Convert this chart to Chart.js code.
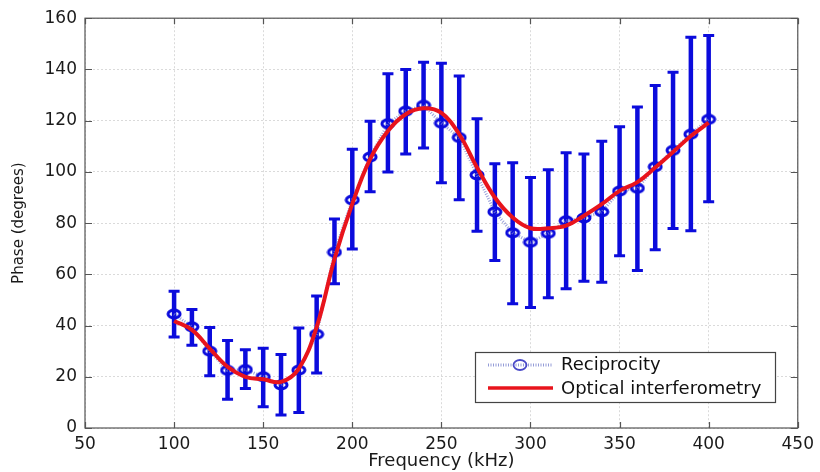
<!DOCTYPE html>
<html>
<head>
<meta charset="utf-8">
<script src="https://cdn.jsdelivr.net/npm/chart.js@4"></script>
<style>
  html, body { margin: 0; padding: 0; background: #fff; }
  #phaseCanvas { display: block; }
</style>
</head>
<body>
<canvas id="phaseCanvas" width="820" height="472"></canvas>
<script>
const freq = [100, 110, 120, 130, 140, 150, 160, 170, 180, 190, 200, 210, 220, 230, 240, 250,
              260, 270, 280, 290, 300, 310, 320, 330, 340, 350, 360, 370, 380, 390, 400];
const recip = [44.5, 39.5, 30, 22.5, 22.8, 20, 16.8, 22.6, 36.6, 68.6, 89, 105.8, 118.8, 123.7, 126, 119,
               113.4, 98.8, 84.4, 76.2, 72.5, 76, 80.9, 82, 84.4, 92.5, 93.6, 102, 108.4, 114.7, 120.5];
const recipHigh = [53.4, 46.3, 39.2, 34.2, 30.6, 31.1, 28.7, 39, 51.5, 81.6, 108.8, 119.8, 138.3, 140, 142.8, 142.4,
                   137.4, 120.7, 103.2, 103.6, 97.8, 100.8, 107.5, 107, 112, 117.6, 125.3, 133.7, 138.9, 152.6, 153.2];
const recipLow = [35.5, 32.3, 20.4, 11.2, 15.4, 8.3, 5.1, 6.1, 21.5, 56.3, 69.9, 92.2, 100, 107, 109.3, 95.8,
                  89.1, 76.8, 65.4, 48.5, 47, 50.9, 54.4, 57.3, 56.9, 67.3, 61.5, 69.6, 77.9, 77, 88.3];
const optical = [41.8, 38.3, 31, 23.9, 20, 19, 18, 23.2, 39.4, 66, 87.5, 105, 116, 122.5, 124.8, 123,
                 114.7, 101.7, 90, 82.2, 78, 78, 79, 82.9, 87.4, 92.6, 96, 101.7, 107.8, 114, 119.2];
const xTicks = [50, 100, 150, 200, 250, 300, 350, 400, 450];
const yTicks = [0, 20, 40, 60, 80, 100, 120, 140, 160];
const legendLabels = ["Reciprocity", "Optical interferometry"];

const BLUE = '#0b0bdc';
const RED = '#e8141c';
const FONT = "'DejaVu Sans', sans-serif";

// ellipse marker (the original picture is a bit stretched horizontally)
function makeMarker(w, h, color, lw) {
    const c = document.createElement('canvas');
    c.width = w; c.height = h;
    const g = c.getContext('2d');
    g.strokeStyle = color;
    g.lineWidth = lw;
    g.beginPath();
    g.ellipse(w / 2, h / 2, w / 2 - lw / 2 - 0.5, h / 2 - lw / 2 - 0.5, 0, 0, Math.PI * 2);
    g.stroke();
    return c;
}
const marker = makeMarker(16, 12, BLUE, 3);

const errorBars = {
    id: 'errorBars',
    beforeDatasetsDraw(chart) {
        const {ctx, scales: {x, y}} = chart;
        ctx.save();
        ctx.strokeStyle = BLUE;
        for (let i = 0; i < freq.length; i++) {
            const px = x.getPixelForValue(freq[i]);
            const top = y.getPixelForValue(recipHigh[i]);
            const bot = y.getPixelForValue(recipLow[i]);
            ctx.lineWidth = 4.5;
            ctx.beginPath();
            ctx.moveTo(px, top);
            ctx.lineTo(px, bot);
            ctx.stroke();
            ctx.lineWidth = 3;
            ctx.beginPath();
            ctx.moveTo(px - 5.5, top);
            ctx.lineTo(px + 5.5, top);
            ctx.moveTo(px - 5.5, bot);
            ctx.lineTo(px + 5.5, bot);
            ctx.stroke();
        }
        ctx.restore();
    }
};

// matlab style box with inward ticks, plus the legend inside the axes
const frameAndLegend = {
    id: 'frameAndLegend',
    afterDraw(chart) {
        const {ctx, chartArea: a, scales: {x, y}} = chart;
        ctx.save();
        ctx.strokeStyle = '#555';
        ctx.lineWidth = 1.2;
        ctx.strokeRect(a.left, a.top, a.right - a.left, a.bottom - a.top);
        ctx.beginPath();
        xTicks.forEach(v => {
            const px = Math.round(x.getPixelForValue(v)) + 0.5;
            ctx.moveTo(px, a.bottom); ctx.lineTo(px, a.bottom - 6);
            ctx.moveTo(px, a.top); ctx.lineTo(px, a.top + 6);
        });
        yTicks.forEach(v => {
            const py = Math.round(y.getPixelForValue(v)) + 0.5;
            ctx.moveTo(a.left, py); ctx.lineTo(a.left + 7, py);
            ctx.moveTo(a.right, py); ctx.lineTo(a.right - 7, py);
        });
        ctx.stroke();

        // legend
        const lx = 475, ly = 352, lw = 300, lh = 50;
        ctx.fillStyle = '#fff';
        ctx.fillRect(lx, ly, lw, lh);
        ctx.strokeStyle = '#444';
        ctx.lineWidth = 1.2;
        ctx.strokeRect(lx + 0.5, ly + 0.5, lw, lh);

        ctx.strokeStyle = 'rgba(120,130,205,0.8)';
        ctx.lineWidth = 3;
        ctx.setLineDash([1, 1.5]);
        ctx.beginPath();
        ctx.moveTo(488, 365); ctx.lineTo(553, 365);
        ctx.stroke();
        ctx.setLineDash([]);
        ctx.strokeStyle = '#4a4ac8';
        ctx.lineWidth = 1.8;
        ctx.beginPath();
        ctx.ellipse(520, 365, 6.5, 5, 0, 0, Math.PI * 2);
        ctx.stroke();

        ctx.strokeStyle = RED;
        ctx.lineWidth = 3.5;
        ctx.beginPath();
        ctx.moveTo(488, 388); ctx.lineTo(553, 388);
        ctx.stroke();

        ctx.fillStyle = '#111';
        ctx.font = "18px " + FONT;
        ctx.textBaseline = 'middle';
        ctx.textAlign = 'left';
        ctx.fillText(legendLabels[0], 561, 365);
        ctx.fillText(legendLabels[1], 561, 389);
        ctx.restore();
    }
};

const ctx = document.getElementById('phaseCanvas').getContext('2d');
const phaseChart = new Chart(ctx, {
    type: 'line',
    data: {
        datasets: [{
            label: legendLabels[1],
            data: freq.map((f, i) => ({x: f, y: optical[i]})),
            borderColor: RED,
            borderWidth: 4,
            pointRadius: 0,
            tension: 0.4,
            fill: false
        }, {
            label: legendLabels[0],
            data: freq.map((f, i) => ({x: f, y: recip[i]})),
            borderColor: 'rgba(120,130,205,0.75)',
            borderWidth: 3,
            borderDash: [1, 1.5],
            pointStyle: marker,
            pointRadius: 6,
            tension: 0,
            fill: false
        }]
    },
    plugins: [errorBars, frameAndLegend],
    options: {
        responsive: false,
        animation: false,
        devicePixelRatio: 1,
        layout: {
            padding: {top: 17, right: 21, bottom: 0, left: 0}
        },
        plugins: {
            legend: {display: false},
            tooltip: {enabled: false}
        },
        scales: {
            x: {
                type: 'linear',
                min: 50,
                max: 450,
                afterFit(scale) { scale.height = 44; },
                afterBuildTicks(scale) { scale.ticks = xTicks.map(v => ({value: v})); },
                ticks: {
                    color: '#1a1a1a',
                    font: {family: FONT, size: 17},
                    padding: 6,
                    maxRotation: 0
                },
                grid: {
                    color: '#dadada',
                    lineWidth: 1,
                    drawTicks: false
                },
                border: {display: false, dash: [2, 2]},
                title: {
                    display: true,
                    text: 'Frequency (kHz)',
                    color: '#1a1a1a',
                    font: {family: FONT, size: 18},
                    padding: {top: 0, bottom: 0}
                }
            },
            y: {
                type: 'linear',
                min: 0,
                max: 160,
                afterFit(scale) { scale.width = 85; },
                afterBuildTicks(scale) { scale.ticks = yTicks.map(v => ({value: v})); },
                ticks: {
                    color: '#1a1a1a',
                    font: {family: FONT, size: 17},
                    padding: 8
                },
                grid: {
                    color: '#dadada',
                    lineWidth: 1,
                    drawTicks: false
                },
                border: {display: false, dash: [2, 2]},
                title: {
                    display: true,
                    text: 'Phase (degrees)',
                    color: '#1a1a1a',
                    font: {family: FONT, size: 15},
                    padding: {top: 10, bottom: 0}
                }
            }
        }
    }
});
</script>
</body>
</html>
